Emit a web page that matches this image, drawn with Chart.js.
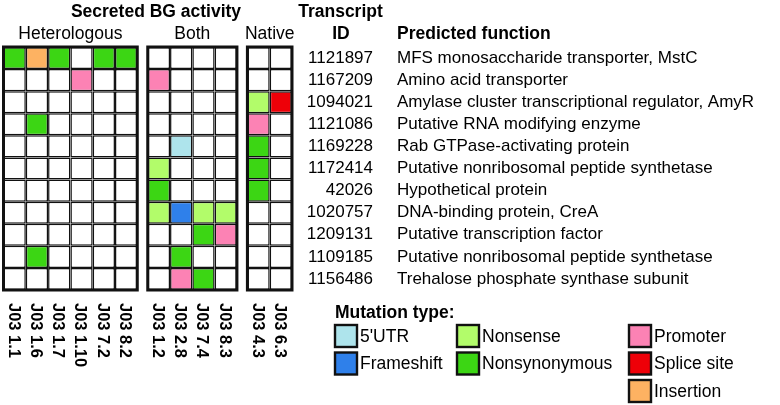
<!DOCTYPE html>
<html>
<head>
<meta charset="utf-8">
<script src="https://cdn.jsdelivr.net/npm/chart.js@4.4.1/dist/chart.umd.min.js"></script>
<style>
  html, body { margin: 0; padding: 0; background: #fff; }
  #wrap { width: 780px; height: 405px; }
</style>
</head>
<body>
<div id="wrap"><canvas id="grid-chart" width="780" height="405"></canvas></div>
<script>
const ctx = document.getElementById("grid-chart").getContext("2d");
Chart.defaults.font.family = "'Liberation Sans', Arial, sans-serif";

// Column groups and strains
let groups = ["Heterologous", "Both", "Native"];
let groupSizes = [6, 4, 2];
let strains = ["J03 1.1", "J03 1.6", "J03 1.7", "J03 1.10", "J03 7.2", "J03 8.2",
  "J03 1.2", "J03 2.8", "J03 7.4", "J03 8.3", "J03 4.3", "J03 6.3"];

// Rows
let transcriptIds = ["1121897", "1167209", "1094021", "1121086", "1169228", "1172414",
  "42026", "1020757", "1209131", "1109185", "1156486"];
let functions = [
  "MFS monosaccharide transporter, MstC",
  "Amino acid transporter",
  "Amylase cluster transcriptional regulator, AmyR",
  "Putative RNA modifying enzyme",
  "Rab GTPase-activating protein",
  "Putative nonribosomal peptide synthetase",
  "Hypothetical protein",
  "DNA-binding protein, CreA",
  "Putative transcription factor",
  "Putative nonribosomal peptide synthetase",
  "Trehalose phosphate synthase subunit"
];

// One code per strain, '.' = no mutation
let mutationRows = [
  "NIN.NN......",
  "...P..P.....",
  "..........XS",
  ".N........P.",
  ".......U..N.",
  "......X...N.",
  "......N...N.",
  "......XFXX..",
  "........NP..",
  ".N.....N....",
  ".......PN..."
];

// Mutation types
let mutationCodes = ["U", "F", "X", "N", "P", "S", "I"];
let mutationTypes = ["5'UTR", "Frameshift", "Nonsense", "Nonsynonymous", "Promoter", "Splice site", "Insertion"];
let mutationColors = ["#aee4ec", "#2f80ea", "#b2fc6a", "#3cd614", "#fc82b4", "#ee0008", "#fdb262"];

// Layout bits
let panelGap = 0.47;
let lineColor = "#111";
let lineWidth = 3;
let textFont = "'Liberation Sans', Arial, sans-serif";

// x position for each strain column, with small gaps between groups
let colX = [];
let pos = 0;
groupSizes.forEach((n, g) => {
  for (let i = 0; i < n; i++) { colX.push(pos); pos += 1; }
  pos += panelGap;
});

function colorFor(code) {
  let i = mutationCodes.indexOf(code);
  return i < 0 ? "#ffffff" : mutationColors[i];
}

const datasets = mutationRows.map((row, r) => ({
  label: transcriptIds[r],
  data: strains.map((s, c) => ({ x: colX[c], y: [r, r + 1] })),
  backgroundColor: row.split("").map(colorFor),
  borderColor: lineColor,
  borderWidth: lineWidth / 2,
  borderSkipped: false,
  inflateAmount: 0,
  grouped: false,
  barPercentage: 1,
  categoryPercentage: 1,
}));

const panelsAndText = {
  id: "panelsAndText",
  afterDatasetsDraw(chart) {
    const c = chart.ctx;
    const xs = chart.scales.x, ys = chart.scales.y;
    const top = ys.getPixelForValue(0), bottom = ys.getPixelForValue(mutationRows.length);
    c.save();
    c.strokeStyle = lineColor;
    c.lineWidth = lineWidth;
    let start = 0;
    groupSizes.forEach((n) => {
      const l = xs.getPixelForValue(colX[start] - 0.5);
      const r = xs.getPixelForValue(colX[start + n - 1] + 0.5);
      c.strokeRect(l, top, r - l, bottom - top);
      start += n;
    });
    c.restore();
  },
  afterDraw(chart) {
    const c = chart.ctx;
    const xs = chart.scales.x, ys = chart.scales.y;
    c.save();
    c.fillStyle = "#000";
    c.textBaseline = "middle";

    // titles
    c.font = "bold 17.5px " + textFont;
    c.textAlign = "center";
    c.fillText("Secreted BG activity", 156, 12);
    c.fillText("Transcript", 340.5, 12);
    c.fillText("ID", 341, 34);
    c.textAlign = "left";
    c.fillText("Predicted function", 397, 34);

    // group names
    c.font = "17.5px " + textFont;
    c.textAlign = "center";
    let start = 0;
    groupSizes.forEach((n, g) => {
      const l = xs.getPixelForValue(colX[start] - 0.5);
      const r = xs.getPixelForValue(colX[start + n - 1] + 0.5);
      c.fillText(groups[g], (l + r) / 2, 34);
      start += n;
    });

    // row labels
    c.font = "17px " + textFont;
    transcriptIds.forEach((id, r) => {
      const y = ys.getPixelForValue(r + 0.5);
      c.textAlign = "right";
      c.fillText(id, 373, y);
      c.textAlign = "left";
      c.fillText(functions[r], 397, y);
    });

    // strain labels, rotated clockwise
    c.font = "bold 16.5px " + textFont;
    c.textAlign = "left";
    strains.forEach((s, i) => {
      c.save();
      c.translate(xs.getPixelForValue(colX[i]) - 1.5, 303);
      c.rotate(Math.PI / 2);
      c.fillText(s, 0, 0);
      c.restore();
    });

    // legend
    c.font = "bold 17.5px " + textFont;
    c.textAlign = "left";
    c.fillText("Mutation type:", 335, 313);
    const legendCols = [[0, 1], [2, 3], [4, 5, 6]];
    const legendX = [335, 457, 629];
    const legendY = [325, 352.5, 380];
    c.font = "17.5px " + textFont;
    legendCols.forEach((items, k) => {
      items.forEach((t, j) => {
        const bx = legendX[k], by = legendY[j];
        c.fillStyle = mutationColors[t];
        c.fillRect(bx, by, 22, 22);
        c.strokeStyle = lineColor;
        c.lineWidth = 2.4;
        c.strokeRect(bx, by, 22, 22);
        c.fillStyle = "#000";
        c.fillText(mutationTypes[t], bx + 25, by + 12);
      });
    });
    c.restore();
  }
};

new Chart(ctx, {
  type: "bar",
  data: { datasets: datasets },
  options: {
    responsive: false,
    animation: false,
    layout: { padding: { left: 3.5, right: 488, top: 47, bottom: 115 } },
    plugins: { legend: { display: false }, tooltip: { enabled: false } },
    scales: {
      x: {
        type: "linear",
        display: false,
        offset: false,
        min: colX[0] - 0.5,
        max: colX[colX.length - 1] + 0.5,
        afterBuildTicks: (axis) => { axis.ticks = colX.map(v => ({ value: v })); },
      },
      y: {
        type: "linear",
        display: false,
        reverse: true,
        min: 0,
        max: mutationRows.length,
      },
    },
  },
  plugins: [panelsAndText],
});
</script>
</body>
</html>
